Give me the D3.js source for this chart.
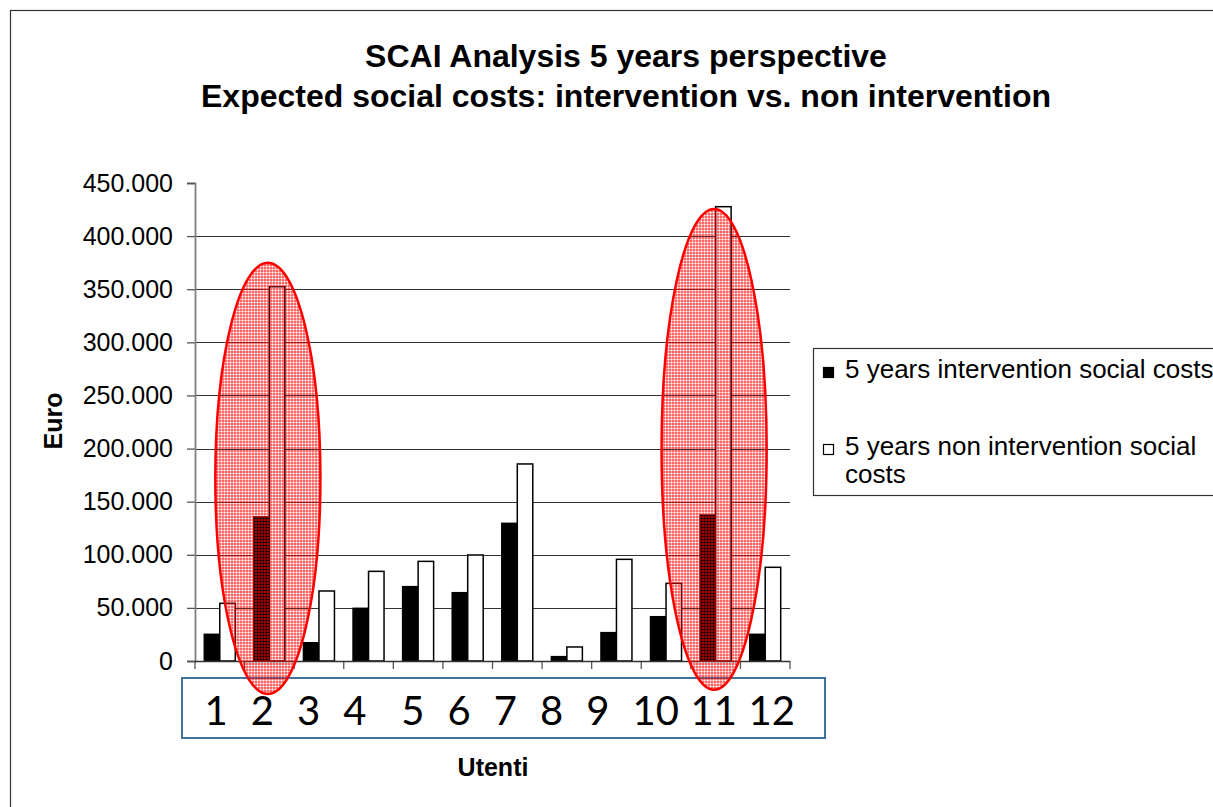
<!DOCTYPE html>
<html>
<head>
<meta charset="utf-8">
<script src="https://cdnjs.cloudflare.com/ajax/libs/d3/7.8.5/d3.min.js"></script>
<style>
  body { margin: 0; background: #fff; }
  svg { display: block; }
</style>
</head>
<body>
<svg id="chart" width="1213" height="807"></svg>
<script>
// data
let utenti = ["1","2","3","4","5","6","7","8","9","10","11","12"]
let interventionCosts = [25100, 135600, 17200, 49600, 70000, 64300, 129600, 4100, 26700, 41700, 137400, 25100]
let nonInterventionCosts = [54300, 352400, 65900, 84400, 93800, 99800, 185500, 13200, 95700, 73100, 427700, 88200]
let seriesNames = ["5 years intervention social costs", "5 years non intervention social costs"]
let yTicks = [0, 50000, 100000, 150000, 200000, 250000, 300000, 350000, 400000, 450000]
// the two red ellipses drawn over the chart (category, top value, bottom value)
let highlightCats = ["2", "11"]
let highlightTop = [375000, 425500]
let highlightBottom = [-31000, -27000]
// the category labels were typed into a text box as one line
let xLabelText = "1  2  3  4   5  6  7  8  9  10 11 12"

let svg = d3.select("#chart")
let plotLeft = 195, plotRight = 790, plotTop = 183, plotBottom = 661

let data = utenti.map((u, i) => ({ u: u, vals: [interventionCosts[i], nonInterventionCosts[i]] }))

let x0 = d3.scaleBand().domain(utenti).range([plotLeft, plotRight]).padding(0)
let bw = x0.bandwidth()
let x1 = d3.scaleBand().domain([0, 1]).range([bw * 0.1875, bw * 0.8125]).padding(0)
let y = d3.scaleLinear().domain([0, 450000]).range([plotBottom, plotTop])

let locale = d3.formatLocale({ decimal: ",", thousands: ".", grouping: [3], currency: ["", "€"] })
let fmt = locale.format(",")

// outer chart border
svg.append("rect")
    .attr("x", 10.5).attr("y", 10.5)
    .attr("width", 1260).attr("height", 820)
    .attr("fill", "#fff").attr("stroke", "#333").attr("stroke-width", 1.2)

// title
let title = svg.append("text")
    .attr("text-anchor", "middle")
    .style("font-family", "'Liberation Sans', Arial, sans-serif")
    .style("font-weight", "bold")
    .style("font-size", "32px")
title.append("tspan").attr("x", 626).attr("y", 67).text("SCAI Analysis 5 years perspective")
title.append("tspan").attr("x", 626).attr("y", 107).text("Expected social costs: intervention vs. non intervention")

// gridlines
svg.append("g")
    .selectAll("line")
    .data(yTicks.filter(t => t > 0 && t < 450000))
    .enter().append("line")
    .attr("x1", plotLeft).attr("x2", plotRight)
    .attr("y1", d => Math.round(y(d)) + 0.5).attr("y2", d => Math.round(y(d)) + 0.5)
    .attr("stroke", "#333").attr("stroke-width", 1)

// bars
let groups = svg.append("g").selectAll("g")
    .data(data)
    .enter().append("g")
    .attr("transform", d => `translate(${x0(d.u)},0)`)

groups.selectAll("rect")
    .data(d => d.vals.map((v, i) => ({ s: i, v: v })))
    .enter().append("rect")
    .attr("x", d => x1(d.s))
    .attr("y", d => y(d.v))
    .attr("width", x1.bandwidth())
    .attr("height", d => plotBottom - y(d.v))
    .attr("fill", d => d.s == 0 ? "#000" : "#fff")
    .attr("stroke", "#000")
    .attr("stroke-width", 1.5)

// y axis
let yAxis = d3.axisLeft(y).tickValues(yTicks).tickFormat(fmt).tickSize(8).tickPadding(14)
let yAxisGroup = svg.append("g")
    .attr("transform", `translate(${plotLeft},0)`)
    .call(yAxis)
yAxisGroup.select(".domain").attr("stroke", "#7f7f7f").attr("stroke-width", 1.8)
yAxisGroup.selectAll(".tick line").attr("stroke", "#555").attr("stroke-width", 1.3)
yAxisGroup.selectAll("text")
    .style("font-family", "'Liberation Sans', Arial, sans-serif")
    .style("font-size", "25px")
    .attr("fill", "#000")

// x axis (ticks at category boundaries, labels are in the box below)
let xAxisGroup = svg.append("g")
svg.append("line")
    .attr("x1", plotLeft).attr("x2", plotRight)
    .attr("y1", plotBottom + 0.5).attr("y2", plotBottom + 0.5)
    .attr("stroke", "#333").attr("stroke-width", 1.3)
xAxisGroup.selectAll("line")
    .data(utenti.concat(["end"]))
    .enter().append("line")
    .attr("x1", d => d == "end" ? plotRight : x0(d))
    .attr("x2", d => d == "end" ? plotRight : x0(d))
    .attr("y1", plotBottom).attr("y2", plotBottom + 8)
    .attr("stroke", "#555").attr("stroke-width", 1.3)

// axis titles
svg.append("text")
    .attr("transform", "translate(62,421) rotate(-90)")
    .attr("text-anchor", "middle")
    .style("font-family", "'Liberation Sans', Arial, sans-serif")
    .style("font-weight", "bold")
    .style("font-size", "25px")
    .text("Euro")

svg.append("text")
    .attr("x", 493).attr("y", 776)
    .attr("text-anchor", "middle")
    .style("font-family", "'Liberation Sans', Arial, sans-serif")
    .style("font-weight", "bold")
    .style("font-size", "25px")
    .text("Utenti")

// box with category labels
svg.append("rect")
    .attr("x", 182).attr("y", 678)
    .attr("width", 643).attr("height", 60)
    .attr("fill", "#fff").attr("stroke", "#41719c").attr("stroke-width", 2)
svg.append("text")
    .attr("x", 204.5).attr("y", 725)
    .style("white-space", "pre")
    .attr("xml:space", "preserve")
    .style("font-family", "Lato, 'Open Sans', sans-serif")
    .style("font-size", "40px")
    .style("word-spacing", "1.3px")
    .attr("fill", "#000")
    .text(xLabelText)

// legend
let legend = svg.append("g")
legend.append("rect")
    .attr("x", 813.5).attr("y", 348.5)
    .attr("width", 500).attr("height", 147)
    .attr("fill", "#fff").attr("stroke", "#333").attr("stroke-width", 1.2)
let legendRows = [[seriesNames[0]], ["5 years non intervention social", "costs"]]
let legendY = [378, 455]
legendRows.forEach((lines, i) => {
    legend.append("rect")
        .attr("x", 823.5).attr("y", legendY[i] - 10.5)
        .attr("width", 10).attr("height", 10)
        .attr("fill", i == 0 ? "#000" : "#fff")
        .attr("stroke", "#000").attr("stroke-width", 1.2)
    let t = legend.append("text")
        .style("font-family", "'Liberation Sans', Arial, sans-serif")
        .style("font-size", "26px")
    lines.forEach((l, j) => {
        t.append("tspan").attr("x", 845).attr("y", legendY[i] + j * 28).text(l)
    })
})

// red ellipse highlights with a dotted fill
let defs = svg.append("defs")
let pat = defs.append("pattern")
    .attr("id", "dots")
    .attr("patternUnits", "userSpaceOnUse")
    .attr("width", 3).attr("height", 3)
pat.append("rect").attr("width", 2).attr("height", 2).attr("fill", "#ff0000").attr("fill-opacity", 0.6)
pat.append("rect").attr("x", 2).attr("width", 1).attr("height", 2).attr("fill", "#ff0000").attr("fill-opacity", 0.3)
pat.append("rect").attr("y", 2).attr("width", 2).attr("height", 1).attr("fill", "#ff0000").attr("fill-opacity", 0.3)

svg.append("g").selectAll("ellipse")
    .data(highlightCats.map((c, i) => ({ c: c, top: highlightTop[i], bottom: highlightBottom[i] })))
    .enter().append("ellipse")
    .attr("cx", d => x0(d.c) + bw / 2 - 1.5)
    .attr("cy", d => (y(d.top) + y(d.bottom)) / 2)
    .attr("rx", bw * 1.06)
    .attr("ry", d => (y(d.bottom) - y(d.top)) / 2)
    .attr("fill", "url(#dots)")
    .attr("stroke", "#ff0000")
    .attr("stroke-width", 2.5)
</script>
</body>
</html>
